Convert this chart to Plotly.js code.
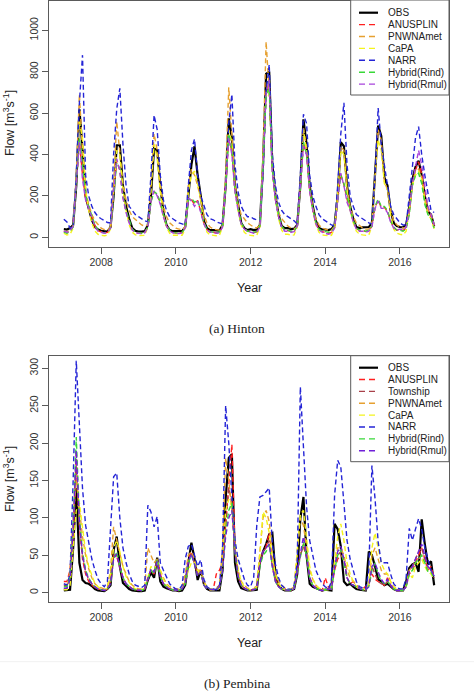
<!DOCTYPE html>
<html>
<head>
<meta charset="utf-8">
<script src="https://cdn.plot.ly/plotly-3.0.1.min.js"></script>
<style>html,body{margin:0;padding:0;background:#fff;}#chart{width:474px;height:691px;}</style>
</head>
<body>
<div id="chart"></div>
<script>
// ---- time axis: monthly, Jan 2007 .. Dec 2016 ----
const years = [2007, 2008, 2009, 2010, 2011, 2012, 2013, 2014, 2015, 2016];
const monthNumbers = [1, 2, 3, 4, 5, 6, 7, 8, 9, 10, 11, 12];
const xTickLabels = ["2008", "2010", "2012", "2014", "2016"];

// ---- (a) Hinton, flow m3/s ----
const hintonOBS = [
  40, 38, 45, 60, 250, 620, 430, 200, 140, 85, 50, 38,
  32, 30, 28, 50, 200, 445, 445, 250, 150, 90, 45, 32,
  28, 28, 30, 60, 200, 430, 420, 250, 120, 60, 35, 30,
  30, 30, 30, 50, 200, 350, 440, 300, 200, 80, 45, 35,
  35, 35, 33, 60, 250, 575, 480, 250, 150, 70, 45, 35,
  40, 35, 38, 60, 350, 790, 800, 350, 200, 110, 55, 45,
  45, 40, 42, 60, 250, 570, 450, 250, 150, 80, 45, 38,
  38, 35, 40, 60, 200, 460, 440, 250, 150, 90, 50, 45,
  48, 50, 50, 70, 300, 540, 490, 290, 250, 130, 70, 55,
  50, 48, 60, 150, 280, 340, 370, 300, 200, 125, 110, 55];
const hintonANUSPLIN = [
  28, 22, 30, 52, 255, 470, 300, 190, 145, 95, 55, 32,
  25, 21, 24, 45, 225, 370, 325, 195, 125, 75, 38, 24,
  21, 19, 24, 50, 175, 222, 205, 165, 105, 58, 33, 24,
  21, 19, 24, 45, 185, 182, 160, 178, 125, 68, 38, 27,
  25, 21, 24, 52, 245, 490, 410, 225, 135, 68, 43, 29,
  28, 23, 27, 52, 335, 695, 740, 325, 185, 105, 53, 33,
  33, 28, 29, 55, 245, 450, 400, 225, 135, 68, 38, 28,
  24, 20, 24, 48, 180, 305, 255, 185, 135, 78, 43, 33,
  33, 28, 33, 53, 145, 180, 145, 145, 125, 78, 48, 35,
  38, 33, 45, 120, 255, 325, 365, 305, 205, 130, 100, 52];
const hintonPNWNAmet = [
  30, 28, 35, 55, 300, 690, 420, 220, 160, 110, 80, 60,
  45, 38, 35, 50, 250, 560, 420, 260, 180, 130, 100, 85,
  70, 60, 55, 60, 250, 500, 420, 250, 150, 100, 70, 55,
  45, 40, 38, 50, 250, 330, 300, 250, 180, 110, 70, 50,
  40, 38, 35, 60, 300, 725, 480, 260, 160, 110, 90, 70,
  60, 50, 45, 60, 400, 945, 700, 340, 200, 120, 90, 70,
  55, 45, 40, 55, 250, 530, 430, 240, 140, 90, 60, 45,
  40, 35, 35, 55, 220, 440, 420, 240, 150, 100, 70, 55,
  45, 40, 40, 60, 280, 520, 470, 270, 230, 130, 80, 60,
  50, 45, 50, 120, 260, 320, 330, 290, 190, 130, 110, 60];
const hintonCaPA = [
  20, 12, 15, 45, 300, 560, 480, 230, 130, 70, 30, 15,
  10, 8, 10, 40, 220, 420, 400, 230, 130, 60, 25, 12,
  8, 8, 10, 50, 220, 450, 380, 220, 110, 50, 20, 10,
  10, 8, 10, 40, 220, 300, 320, 260, 180, 70, 25, 12,
  10, 8, 10, 50, 260, 520, 460, 230, 130, 60, 25, 12,
  10, 8, 10, 50, 380, 680, 720, 330, 180, 90, 35, 15,
  15, 10, 12, 50, 260, 520, 420, 230, 130, 60, 25, 12,
  10, 8, 10, 45, 210, 420, 400, 230, 130, 70, 30, 15,
  12, 10, 12, 55, 300, 470, 420, 260, 230, 110, 40, 20,
  15, 12, 30, 130, 250, 300, 320, 280, 170, 110, 90, 40];
const hintonNARR = [
  88, 75, 45, 50, 300, 650, 880, 300, 200, 150, 120, 100,
  90, 80, 72, 70, 400, 620, 720, 450, 250, 150, 130, 110,
  100, 90, 80, 75, 300, 590, 520, 300, 180, 130, 100, 90,
  80, 70, 65, 60, 250, 420, 475, 300, 200, 150, 110, 90,
  85, 75, 70, 65, 250, 550, 690, 350, 220, 150, 120, 100,
  100, 90, 85, 80, 300, 700, 835, 400, 250, 170, 130, 110,
  100, 90, 80, 65, 300, 595, 550, 300, 200, 150, 110, 90,
  80, 70, 60, 55, 250, 500, 650, 350, 200, 150, 110, 100,
  90, 80, 70, 65, 300, 625, 450, 350, 250, 150, 110, 90,
  70, 60, 60, 200, 330, 480, 535, 400, 300, 220, 130, 120];
const hintonRind = [
  25, 20, 30, 50, 250, 480, 350, 200, 150, 100, 60, 35,
  25, 22, 25, 45, 220, 360, 330, 200, 130, 80, 40, 25,
  22, 20, 25, 50, 170, 220, 210, 170, 110, 60, 35, 25,
  22, 20, 25, 45, 180, 190, 170, 180, 130, 70, 40, 28,
  25, 22, 25, 55, 240, 500, 420, 230, 140, 70, 45, 30,
  30, 25, 28, 55, 330, 690, 720, 330, 190, 110, 55, 35,
  35, 30, 30, 55, 240, 460, 400, 230, 140, 70, 40, 30,
  28, 25, 28, 50, 180, 300, 260, 200, 140, 80, 45, 35,
  35, 30, 35, 55, 150, 185, 150, 150, 130, 80, 50, 35,
  35, 30, 40, 110, 250, 300, 310, 260, 160, 110, 90, 45];
const hintonRmul = [
  30, 25, 30, 55, 260, 460, 280, 180, 140, 90, 50, 30,
  25, 20, 22, 45, 230, 380, 320, 190, 120, 70, 35, 22,
  20, 18, 22, 50, 180, 225, 200, 160, 100, 55, 30, 22,
  20, 18, 22, 45, 190, 175, 150, 175, 120, 65, 35, 25,
  25, 20, 22, 50, 250, 480, 400, 220, 130, 65, 40, 28,
  25, 20, 25, 50, 340, 700, 760, 320, 180, 100, 50, 30,
  30, 25, 28, 55, 250, 440, 400, 220, 130, 65, 35, 25,
  20, 15, 20, 45, 180, 310, 250, 170, 130, 75, 40, 30,
  30, 25, 30, 50, 140, 175, 140, 140, 120, 75, 45, 35,
  40, 35, 50, 130, 260, 350, 420, 350, 250, 150, 110, 60];

// ---- (b) Pembina, flow m3/s ----
const pembinaOBS = [
  3, 3, 4, 60, 140, 40, 17, 13, 12, 9, 5, 3,
  2, 2, 5, 10, 57, 75, 35, 13, 9, 5, 3, 2,
  2, 2, 3, 17, 27, 20, 47, 15, 8, 6, 4, 3,
  3, 2, 3, 10, 40, 67, 45, 17, 30, 12, 5, 3,
  3, 3, 3, 30, 126, 180, 185, 40, 15, 6, 4, 3,
  3, 3, 4, 40, 55, 65, 78, 80, 25, 10, 5, 3,
  3, 3, 5, 25, 99, 128, 50, 12, 8, 6, 4, 3,
  4, 3, 3, 92, 85, 62, 15, 10, 12, 8, 5, 4,
  4, 3, 55, 50, 35, 18, 15, 10, 12, 8, 5, 3,
  3, 3, 15, 33, 38, 40, 28, 98, 65, 38, 42, 10];
const pembinaANUSPLIN = [
  15, 15, 30, 80, 185, 90, 45, 25, 15, 10, 7, 5,
  4, 3, 5, 15, 50, 48, 35, 20, 12, 8, 5, 4,
  3, 3, 5, 20, 30, 25, 45, 25, 12, 8, 5, 4,
  3, 3, 5, 15, 45, 55, 40, 25, 30, 12, 6, 4,
  4, 25, 30, 40, 90, 150, 198, 60, 25, 10, 6, 4,
  4, 4, 6, 40, 55, 62, 80, 40, 18, 8, 5, 4,
  3, 3, 6, 30, 50, 65, 50, 20, 10, 6, 4, 3,
  20, 8, 5, 30, 45, 50, 45, 20, 12, 15, 10, 6,
  5, 8, 12, 25, 18, 15, 12, 10, 20, 10, 5, 3,
  3, 3, 8, 25, 30, 40, 50, 60, 45, 30, 35, 20];
const pembinaTownship = [
  10, 10, 20, 70, 170, 95, 50, 28, 18, 12, 8, 5,
  4, 3, 5, 15, 50, 50, 35, 20, 12, 8, 5, 4,
  3, 3, 5, 18, 30, 25, 40, 22, 12, 8, 5, 4,
  3, 3, 5, 15, 42, 52, 40, 25, 28, 12, 6, 4,
  4, 6, 10, 35, 90, 140, 120, 55, 22, 10, 6, 4,
  4, 4, 6, 38, 55, 60, 70, 35, 15, 8, 5, 4,
  3, 3, 6, 30, 50, 62, 48, 20, 10, 6, 4, 3,
  6, 5, 5, 35, 50, 55, 45, 20, 12, 10, 8, 5,
  4, 4, 10, 35, 25, 15, 12, 10, 15, 10, 5, 3,
  3, 3, 8, 30, 35, 45, 55, 60, 45, 30, 30, 20];
const pembinaPNWNAmet = [
  5, 5, 30, 100, 150, 110, 75, 50, 32, 20, 12, 8,
  6, 5, 8, 30, 88, 70, 50, 35, 25, 15, 10, 7,
  5, 5, 8, 60, 50, 40, 45, 30, 20, 12, 8, 6,
  5, 5, 8, 25, 50, 55, 45, 30, 30, 15, 8, 5,
  5, 5, 8, 60, 180, 150, 110, 60, 30, 15, 10, 6,
  5, 5, 10, 60, 100, 110, 95, 50, 25, 15, 10, 6,
  5, 5, 8, 50, 100, 90, 60, 30, 18, 10, 6, 4,
  4, 4, 6, 40, 60, 60, 50, 30, 20, 15, 10, 6,
  5, 5, 12, 50, 60, 45, 30, 25, 25, 15, 8, 5,
  4, 4, 10, 30, 35, 40, 45, 50, 40, 30, 28, 20];
const pembinaCaPA = [
  4, 4, 10, 60, 110, 120, 90, 55, 35, 22, 12, 8,
  5, 4, 6, 25, 60, 70, 55, 35, 22, 14, 8, 5,
  4, 4, 6, 20, 35, 30, 40, 30, 18, 10, 6, 4,
  4, 4, 6, 15, 30, 40, 40, 30, 25, 14, 7, 4,
  4, 4, 6, 40, 110, 125, 115, 60, 30, 15, 8, 5,
  4, 4, 8, 50, 108, 100, 80, 45, 25, 12, 7, 4,
  4, 4, 6, 60, 105, 110, 70, 35, 18, 10, 6, 4,
  4, 4, 6, 40, 75, 92, 70, 40, 25, 15, 8, 5,
  4, 4, 10, 60, 80, 60, 40, 30, 25, 15, 8, 4,
  3, 3, 8, 25, 20, 35, 40, 45, 35, 28, 25, 18];
const pembinaNARR = [
  12, 10, 25, 150, 310, 229, 140, 90, 68, 45, 30, 18,
  12, 8, 15, 85, 155, 160, 100, 60, 40, 25, 15, 10,
  8, 7, 10, 117, 108, 88, 102, 40, 30, 20, 12, 8,
  5, 4, 10, 45, 62, 65, 50, 35, 44, 18, 8, 5,
  5, 4, 8, 60, 250, 200, 128, 70, 45, 30, 18, 10,
  8, 20, 90, 128, 130, 135, 140, 65, 38, 20, 10, 6,
  5, 4, 10, 40, 275, 193, 115, 70, 50, 30, 20, 12,
  8, 5, 15, 130, 177, 168, 120, 70, 45, 28, 15, 8,
  6, 5, 30, 170, 126, 68, 40, 40, 40, 25, 12, 7,
  5, 5, 20, 86, 70, 85, 99, 85, 60, 45, 30, 22];
const pembinaRind = [
  8, 8, 20, 90, 208, 100, 55, 30, 20, 12, 8, 5,
  4, 3, 5, 12, 45, 55, 35, 20, 12, 8, 5, 4,
  3, 3, 5, 18, 30, 25, 45, 22, 12, 8, 5, 4,
  3, 3, 5, 12, 40, 50, 38, 22, 28, 10, 5, 4,
  4, 4, 8, 30, 80, 110, 120, 55, 22, 10, 6, 4,
  4, 4, 6, 35, 50, 55, 65, 35, 15, 8, 5, 4,
  3, 3, 6, 28, 45, 68, 50, 20, 10, 6, 4, 3,
  4, 4, 5, 30, 50, 58, 40, 20, 12, 10, 8, 5,
  4, 4, 8, 30, 40, 25, 15, 12, 15, 10, 5, 3,
  3, 3, 8, 25, 30, 40, 45, 50, 40, 28, 28, 18];
const pembinaRmul = [
  6, 6, 18, 85, 190, 95, 50, 28, 18, 12, 8, 5,
  4, 3, 5, 12, 45, 52, 35, 20, 12, 8, 5, 4,
  3, 3, 5, 20, 32, 28, 42, 22, 12, 8, 5, 4,
  3, 3, 5, 12, 42, 52, 38, 22, 28, 10, 5, 4,
  4, 4, 8, 30, 75, 100, 110, 55, 22, 10, 6, 4,
  4, 4, 6, 40, 55, 60, 65, 35, 15, 8, 5, 4,
  3, 3, 6, 30, 50, 75, 50, 20, 10, 6, 4, 3,
  4, 4, 5, 35, 55, 62, 45, 20, 12, 10, 8, 5,
  4, 4, 8, 35, 40, 28, 18, 12, 18, 10, 5, 3,
  3, 3, 8, 30, 35, 45, 55, 65, 50, 35, 30, 22];

const hintonTicks = [0, 200, 400, 600, 800, 1000];
const pembinaTicks = [0, 50, 100, 150, 200, 250, 300];

// ---- build decimal-year x values from years/months ----
const xYears = [];
years.forEach(function (y) { monthNumbers.forEach(function (m) { xYears.push(y + (m - 1) / 12); }); });

const W = 474, H = 691;
function px(x) { return x / W; }
function py(y) { return 1 - y / H; }

const DASH = '5px,3px';
const styles = {
  OBS: { color: '#000000', width: 2.2, dash: 'solid' },
  ANUSPLIN: { color: '#ff2020', width: 1.4, dash: DASH },
  Township: { color: '#a8404a', width: 1.4, dash: DASH },
  PNWNAmet: { color: '#e6a030', width: 1.4, dash: DASH },
  CaPA: { color: '#f4f41c', width: 1.4, dash: DASH },
  NARR: { color: '#2424d6', width: 1.4, dash: DASH },
  'Hybrid(Rind)': { color: '#38d838', width: 1.4, dash: DASH },
  'Hybrid(Rmul)a': { color: '#a844dc', width: 1.4, dash: DASH },
  'Hybrid(Rmul)b': { color: '#7020d8', width: 1.4, dash: DASH }
};

const hintonSeries = [
  ['OBS', hintonOBS, 'OBS'],
  ['ANUSPLIN', hintonANUSPLIN, 'ANUSPLIN'],
  ['PNWNAmet', hintonPNWNAmet, 'PNWNAmet'],
  ['CaPA', hintonCaPA, 'CaPA'],
  ['NARR', hintonNARR, 'NARR'],
  ['Hybrid(Rind)', hintonRind, 'Hybrid(Rind)'],
  ['Hybrid(Rmul)', hintonRmul, 'Hybrid(Rmul)a']
];
const pembinaSeries = [
  ['OBS', pembinaOBS, 'OBS'],
  ['ANUSPLIN', pembinaANUSPLIN, 'ANUSPLIN'],
  ['Township', pembinaTownship, 'Township'],
  ['PNWNAmet', pembinaPNWNAmet, 'PNWNAmet'],
  ['CaPA', pembinaCaPA, 'CaPA'],
  ['NARR', pembinaNARR, 'NARR'],
  ['Hybrid(Rind)', pembinaRind, 'Hybrid(Rind)'],
  ['Hybrid(Rmul)', pembinaRmul, 'Hybrid(Rmul)b']
];

const traces = [];
function addTraces(list, xa, ya) {
  list.forEach(function (s) {
    const st = styles[s[2]];
    traces.push({
      type: 'scatter', mode: 'lines', name: s[0], x: xYears, y: s[1],
      xaxis: xa, yaxis: ya, showlegend: false, hoverinfo: 'skip',
      line: { color: st.color, width: st.width, dash: st.dash }
    });
  });
}
addTraces(hintonSeries, 'x', 'y');
addTraces(pembinaSeries, 'x2', 'y2');

const FONT = 'Liberation Sans, Arial, sans-serif';
const axisCommon = {
  showgrid: false, zeroline: false, showline: true, mirror: true,
  linecolor: '#5a5a5a', linewidth: 1, ticks: 'outside', ticklen: 6, tickwidth: 1,
  tickcolor: '#5a5a5a', tickfont: { family: FONT, size: 10.5, color: '#333' }
};
const xTickVals = xTickLabels.map(Number);
const xDomain = [px(49), px(449)];
const xRange = [2006.603, 2017.314];

const shapes = [];
const annotations = [];
// faint separator between the two panels
shapes.push({ type: 'line', xref: 'paper', yref: 'paper', x0: 0, x1: 1, y0: py(661.7), y1: py(661.7),
  line: { color: '#f1f1f1', width: 1 }, layer: 'below' });
function legend(list, top, bottom, firstRow, rowStep) {
  shapes.push({ type: 'rect', xref: 'paper', yref: 'paper', x0: px(350.7), x1: px(449), y0: py(bottom), y1: py(top),
    line: { color: '#5a5a5a', width: 1 }, fillcolor: '#ffffff', layer: 'above' });
  list.forEach(function (s, i) {
    const st = styles[s[2]];
    const yy = firstRow + i * rowStep;
    shapes.push({ type: 'line', xref: 'paper', yref: 'paper', x0: px(359), x1: px(378), y0: py(yy), y1: py(yy),
      line: { color: st.color, width: st.width, dash: s[0] === 'OBS' ? 'solid' : '6px,4px' }, layer: 'above' });
    annotations.push({ xref: 'paper', yref: 'paper', x: px(386), y: py(yy), xanchor: 'left', yanchor: 'middle',
      text: s[0], showarrow: false, font: { family: FONT, size: 10, color: '#222' } });
  });
}
legend(hintonSeries, 0, 95, 12.7, 11.9);
legend(pembinaSeries, 355.7, 461.7, 367.7, 11.86);

function label(text, x, y, size, fam, angle) {
  annotations.push({ xref: 'paper', yref: 'paper', x: px(x), y: py(y), xanchor: 'center', yanchor: 'middle',
    text: text, showarrow: false, textangle: angle || 0, font: { family: fam || FONT, size: size, color: '#222' } });
}
label('Year', 249, 288, 12.5);
label('Year', 249, 643, 12.5);
label('Flow [m<sup>3</sup>s<sup>-1</sup>]', 9, 123, 12.5, FONT, -90);
label('Flow [m<sup>3</sup>s<sup>-1</sup>]', 9, 479, 12.5, FONT, -90);
label('(a) Hinton', 237, 329, 13.5, 'Liberation Serif, Times New Roman, serif');
label('(b) Pembina', 237, 683, 13.5, 'Liberation Serif, Times New Roman, serif');

const layout = {
  width: W, height: H, margin: { l: 0, r: 0, t: 0, b: 0 },
  paper_bgcolor: '#ffffff', plot_bgcolor: '#ffffff', showlegend: false,
  xaxis: Object.assign({}, axisCommon, { domain: xDomain, range: xRange, tickvals: xTickVals, ticktext: xTickLabels, anchor: 'y' }),
  yaxis: Object.assign({}, axisCommon, { domain: [py(246.5), py(0.5)], range: [-44, 1144], tickvals: hintonTicks, tickangle: -90, anchor: 'x' }),
  xaxis2: Object.assign({}, axisCommon, { domain: xDomain, range: xRange, tickvals: xTickVals, ticktext: xTickLabels, anchor: 'y2' }),
  yaxis2: Object.assign({}, axisCommon, { domain: [py(601.7), py(356.3)], range: [-12, 316], tickvals: pembinaTicks, tickangle: -90, anchor: 'x2' }),
  shapes: shapes, annotations: annotations
};

Plotly.newPlot('chart', traces, layout, { staticPlot: true, displayModeBar: false });
</script>
</body>
</html>
